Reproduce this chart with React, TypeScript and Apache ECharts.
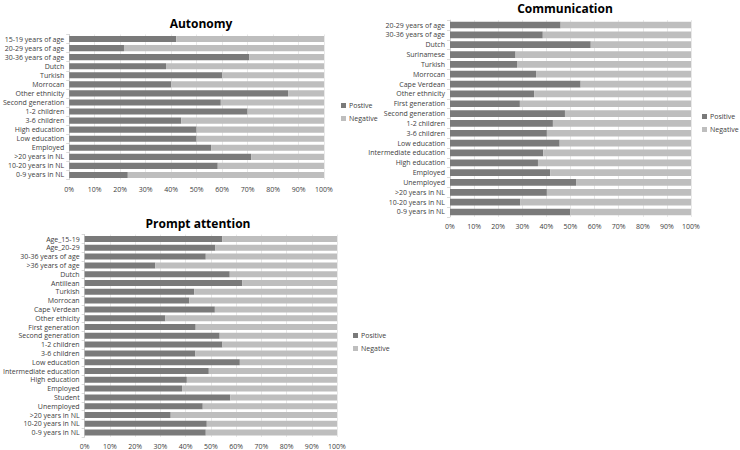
import React, { useEffect, useRef } from "react";
import * as echarts from "echarts";

const autonomyCats = [
  "15-19 years of age", "20-29 years of age", "30-36 years of age", "Dutch", "Turkish", "Morrocan",
  "Other ethnicity", "Second generation", "1-2 children", "3-6 children", "High education",
  "Low education", "Employed", ">20 years in NL", "10-20 years in NL", "0-9 years in NL",
];
const autonomyPos = [42, 21.5, 70.7, 38, 60, 40, 85.9, 59.5, 70, 44, 50, 50, 55.7, 71.4, 58.3, 23];

const commCats = [
  "20-29 years of age", "30-36 years of age", "Dutch", "Surinamese", "Turkish", "Morrocan",
  "Cape Verdean", "Other ethnicity", "First generation", "Second generation", "1-2 children",
  "3-6 children", "Low education", "Intermediate education", "High education", "Employed",
  "Unemployed", ">20 years in NL", "10-20 years in NL", "0-9 years in NL",
];
const commPos = [45.9, 38.5, 58.4, 27.2, 27.8, 35.7, 54.2, 34.9, 29, 47.7, 42.7, 40.2, 45.5, 38.7, 36.5, 41.6, 52.3, 40.2, 29.2, 49.9];

const promptCats = [
  "Age_15-19", "Age_20-29", "30-36 years of age", ">36 years of age", "Dutch", "Antillean",
  "Turkish", "Morrocan", "Cape Verdean", "Other ethicity", "First generation", "Second generation",
  "1-2 children", "3-6 children", "Low education", "Intermediate education", "High education",
  "Employed", "Student", "Unemployed", ">20 years in NL", "10-20 years in NL", "0-9 years in NL",
];
const promptPos = [54.5, 51.8, 48, 28, 57.5, 62.4, 43.4, 41.5, 51.6, 32, 44, 53.5, 54.6, 43.9, 61.5, 49.2, 40.5, 38.6, 57.7, 46.8, 34.1, 48.4, 48];

const xTicks = ["0%", "10%", "20%", "30%", "40%", "50%", "60%", "70%", "80%", "90%", "100%"];

const DARK = "#7a7a7a";
const LIGHT = "#bebebe";
const FONT = "Open Sans";

export default function App() {
  const ref = useRef<HTMLDivElement>(null);
  useEffect(() => {
    const chart = echarts.init(ref.current!, undefined, { renderer: "svg" });
    const grids = [
      { left: 68, right: 416, top: 34.5, height: 145 },
      { left: 450, right: 49, top: 20.1, height: 196.8 },
      { left: 72, right: 403, top: 234.6, height: 203.8 },
    ];
    const cats = [autonomyCats, commCats, promptCats];
    const pos = [autonomyPos, commPos, promptPos];
    const posNames = ["Postive", "Positive", "Positive"];
    const xAxis = grids.map((_, i) => ({
      type: "value",
      gridIndex: i,
      min: 0,
      max: 100,
      interval: 10,
      axisLine: { show: false },
      axisTick: { show: false },
      axisLabel: {
        fontSize: 7,
        fontFamily: FONT,
        color: "#404040",
        margin: 6,
        formatter: (v: number) => xTicks[Math.round(v / 10)],
      },
      splitLine: { show: true, lineStyle: { color: "#d9d9d9", width: 0.6 } },
    }));
    const yAxis = grids.map((_, i) => ({
      type: "category",
      gridIndex: i,
      data: cats[i],
      inverse: true,
      axisLine: { show: true, lineStyle: { color: "#bfbfbf", width: 0.6 } },
      axisTick: { show: true, length: 3, lineStyle: { color: "#bfbfbf", width: 0.6 } },
      axisLabel: { fontSize: 7, fontFamily: FONT, color: "#404040", margin: 5, interval: 0 },
    }));
    const series: any[] = [];
    grids.forEach((_, i) => {
      series.push({
        type: "bar",
        name: posNames[i],
        xAxisIndex: i,
        yAxisIndex: i,
        stack: "s" + i,
        barWidth: "68%",
        itemStyle: { color: DARK },
        data: pos[i],
      });
      series.push({
        type: "bar",
        name: "Negative",
        xAxisIndex: i,
        yAxisIndex: i,
        stack: "s" + i,
        barWidth: "68%",
        itemStyle: { color: LIGHT },
        data: pos[i].map((v) => +(100 - v).toFixed(1)),
      });
    });
    const legendBase = {
      orient: "vertical",
      itemWidth: 5,
      itemHeight: 5,
      itemGap: 6,
      icon: "rect",
      textStyle: { fontSize: 7, fontFamily: FONT, color: "#404040", padding: [0, 0, 0, -2] },
      selectedMode: false,
      padding: 0,
    };
    chart.setOption({
      animation: false,
      backgroundColor: "#ffffff",
      title: [
        { text: "Autonomy", left: 196, top: 12, textAlign: "center", textStyle: { fontSize: 12, fontWeight: "bold", fontFamily: FONT, color: "#000" } },
        { text: "Communication", left: 560, top: -3, textAlign: "center", textStyle: { fontSize: 12, fontWeight: "bold", fontFamily: FONT, color: "#000" } },
        { text: "Prompt attention", left: 193, top: 212, textAlign: "center", textStyle: { fontSize: 12, fontWeight: "bold", fontFamily: FONT, color: "#000" } },
      ],
      grid: grids,
      xAxis,
      yAxis,
      legend: [
        { ...legendBase, data: ["Postive", "Negative"], left: 341, top: 102 },
        { ...legendBase, data: ["Positive", "Negative"], left: 702, top: 113 },
        { ...legendBase, data: ["Positive", "Negative"], left: 353, top: 332 },
      ],
      series,
    } as any);
    return () => chart.dispose();
  }, []);
  return <div ref={ref} style={{ position: "absolute", left: 0, top: 0, width: 740, height: 450 }} />;
}
